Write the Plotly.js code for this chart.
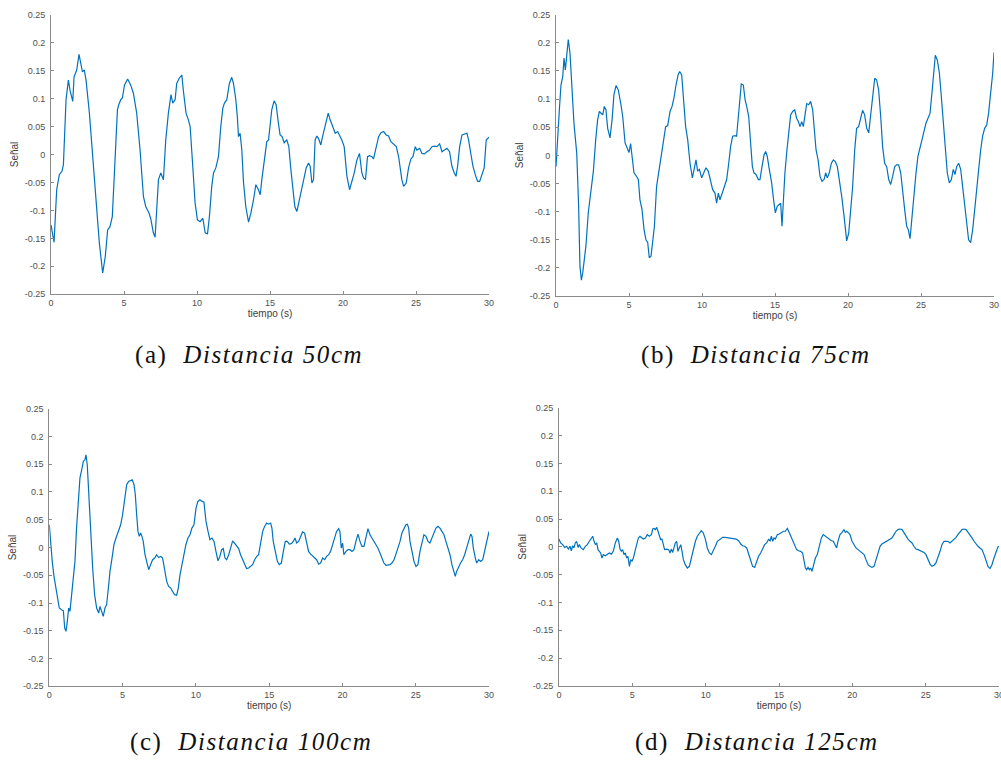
<!DOCTYPE html>
<html>
<head>
<meta charset="utf-8">
<script src="https://cdn.plot.ly/plotly-3.0.1.min.js"></script>
<style>
html,body{margin:0;padding:0;background:#fff;}
#chart{width:1001px;height:760px;}
</style>
</head>
<body>
<div id="chart"></div>
<script>
// ---- Data (time in s, signal values) ----
const tA = [0,0.21,0.39,0.57,0.75,0.85,1.03,1.19,1.30,1.49,1.58,1.76,1.92,2.03,2.15,2.28,2.40,2.63,2.86,3.08,3.31,3.54,3.72,3.88,4.04,4.20,4.39,4.55,4.64,4.78,4.89,5.03,5.25,5.46,5.64,5.87,6.10,6.33,6.49,6.72,6.85,7.01,7.13,7.24,7.36,7.52,7.70,7.86,8.04,8.22,8.34,8.50,8.61,8.77,8.96,9.07,9.25,9.41,9.53,9.71,9.87,10.03,10.21,10.40,10.56,10.72,10.85,11.01,11.13,11.29,11.47,11.63,11.77,11.88,12.04,12.22,12.38,12.50,12.66,12.77,12.84,12.95,13.07,13.18,13.34,13.53,13.69,13.87,14.03,14.21,14.33,14.44,14.55,14.67,14.78,14.90,15.01,15.12,15.28,15.42,15.56,15.69,15.83,15.97,16.15,16.29,16.43,16.56,16.70,16.84,17.00,17.18,17.34,17.48,17.64,17.75,17.87,17.98,18.09,18.21,18.32,18.48,18.60,18.78,18.99,19.12,19.31,19.47,19.63,19.76,19.92,20.08,20.27,20.45,20.61,20.77,20.95,21.13,21.29,21.41,21.54,21.68,21.82,21.98,22.09,22.28,22.44,22.60,22.78,22.96,23.12,23.28,23.46,23.65,23.81,23.92,24.03,24.15,24.33,24.49,24.65,24.79,24.95,25.06,25.25,25.41,25.57,25.75,25.93,26.09,26.25,26.43,26.62,26.78,26.94,27.12,27.30,27.46,27.62,27.74,27.85,27.99,28.15,28.31,28.49,28.60,28.76,28.90,29.06,29.22,29.36,29.52,29.67,29.81,30.00];
const vA = [-0.126,-0.157,-0.063,-0.036,-0.030,-0.018,0.098,0.133,0.115,0.095,0.139,0.151,0.179,0.166,0.148,0.151,0.133,0.074,-0.004,-0.081,-0.158,-0.212,-0.182,-0.135,-0.129,-0.111,-0.004,0.080,0.089,0.098,0.101,0.124,0.135,0.124,0.110,0.074,0.008,-0.075,-0.093,-0.105,-0.117,-0.140,-0.148,-0.105,-0.045,-0.033,-0.045,0.026,0.074,0.107,0.092,0.098,0.127,0.136,0.142,0.113,0.074,0.062,0.050,-0.021,-0.087,-0.117,-0.120,-0.114,-0.140,-0.142,-0.111,-0.057,-0.033,-0.024,-0.004,0.050,0.083,0.092,0.098,0.127,0.138,0.127,0.098,0.065,0.032,0.038,0.008,-0.048,-0.093,-0.121,-0.105,-0.081,-0.054,-0.063,-0.072,-0.045,-0.024,0.002,0.023,0.026,0.050,0.080,0.096,0.089,0.059,0.035,0.032,0.021,0.026,0.014,-0.027,-0.057,-0.093,-0.102,-0.081,-0.057,-0.039,-0.024,-0.015,-0.021,-0.051,-0.045,0.026,0.033,0.029,0.017,0.032,0.050,0.074,0.062,0.050,0.038,0.041,0.035,0.026,0.014,-0.039,-0.063,-0.048,-0.033,-0.010,0.002,-0.033,-0.042,-0.045,-0.004,-0.002,-0.004,-0.008,0.014,0.032,0.039,0.041,0.035,0.033,0.023,0.019,0.014,-0.004,-0.027,-0.045,-0.057,-0.051,-0.024,-0.008,-0.004,0.014,0.008,0.011,0.002,0.001,0.005,0.008,0.014,0.015,0.014,0.019,0.005,0.008,0.011,0.005,-0.021,-0.033,-0.039,-0.021,0.014,0.035,0.037,0.038,0.026,0.002,-0.021,-0.036,-0.048,-0.048,-0.036,-0.024,0.026,0.031];

const tB = [0,0.09,0.23,0.34,0.46,0.55,0.64,0.73,0.84,0.96,1.07,1.23,1.42,1.55,1.64,1.74,1.83,1.92,2.05,2.21,2.37,2.56,2.72,2.85,2.97,3.08,3.20,3.31,3.42,3.54,3.70,3.84,3.97,4.11,4.27,4.43,4.57,4.73,4.89,5.00,5.11,5.23,5.34,5.53,5.64,5.75,5.89,6.03,6.16,6.28,6.39,6.51,6.62,6.74,6.89,7.08,7.24,7.40,7.51,7.65,7.81,7.95,8.08,8.22,8.36,8.47,8.61,8.72,8.88,9.02,9.18,9.34,9.47,9.59,9.70,9.82,9.98,10.14,10.27,10.43,10.59,10.73,10.89,11.00,11.12,11.23,11.39,11.53,11.69,11.83,11.96,12.10,12.26,12.37,12.47,12.58,12.69,12.83,12.95,13.06,13.20,13.33,13.45,13.56,13.70,13.86,13.97,14.11,14.25,14.36,14.47,14.61,14.77,14.89,15.02,15.16,15.27,15.39,15.48,15.57,15.68,15.82,15.96,16.07,16.21,16.35,16.48,16.60,16.71,16.83,16.94,17.05,17.17,17.31,17.44,17.58,17.69,17.81,17.95,18.08,18.22,18.36,18.47,18.58,18.72,18.86,19.00,19.13,19.27,19.41,19.57,19.73,19.91,20.05,20.18,20.32,20.46,20.59,20.73,20.87,21.00,21.14,21.28,21.42,21.55,21.69,21.83,21.96,22.10,22.24,22.37,22.51,22.65,22.79,22.92,23.06,23.20,23.33,23.47,23.61,23.74,23.88,24.02,24.13,24.25,24.36,24.52,24.66,24.79,24.93,25.07,25.21,25.34,25.48,25.62,25.75,25.89,25.98,26.12,26.26,26.39,26.53,26.67,26.80,26.94,27.08,27.21,27.33,27.44,27.58,27.72,27.85,27.99,28.13,28.26,28.40,28.54,28.68,28.81,28.95,29.09,29.22,29.36,29.50,29.63,29.77,29.91,30.00];
const vB = [-0.020,0.028,0.081,0.125,0.140,0.173,0.152,0.176,0.206,0.181,0.128,0.057,0.004,-0.090,-0.197,-0.222,-0.209,-0.185,-0.161,-0.102,-0.067,-0.028,0.028,0.063,0.078,0.075,0.072,0.087,0.081,0.048,0.031,0.063,0.108,0.124,0.116,0.093,0.069,0.022,0.010,0.005,0.021,-0.008,-0.031,-0.038,-0.043,-0.079,-0.096,-0.132,-0.150,-0.155,-0.182,-0.179,-0.155,-0.126,-0.055,-0.022,0.004,0.034,0.051,0.053,0.078,0.087,0.102,0.125,0.143,0.149,0.143,0.105,0.051,0.028,-0.014,-0.040,-0.025,-0.008,-0.028,-0.025,-0.040,-0.031,-0.022,-0.028,-0.046,-0.061,-0.067,-0.085,-0.067,-0.079,-0.067,-0.055,-0.043,-0.014,0.016,0.034,0.035,0.034,0.063,0.105,0.127,0.125,0.099,0.087,0.069,0.022,-0.020,-0.031,-0.034,-0.043,-0.043,-0.020,0.001,0.007,-0.002,-0.025,-0.049,-0.076,-0.102,-0.090,-0.087,-0.085,-0.126,-0.079,-0.031,0.010,0.048,0.072,0.078,0.081,0.066,0.060,0.051,0.060,0.051,0.069,0.092,0.090,0.096,0.081,0.046,0.010,-0.008,-0.037,-0.046,-0.043,-0.031,-0.040,-0.031,-0.014,-0.008,-0.011,-0.020,-0.043,-0.073,-0.108,-0.152,-0.138,-0.102,-0.055,0.010,0.048,0.051,0.069,0.080,0.072,0.048,0.040,0.069,0.111,0.137,0.134,0.116,0.069,0.016,-0.014,-0.020,-0.043,-0.052,-0.037,-0.020,-0.017,-0.017,-0.031,-0.067,-0.096,-0.126,-0.132,-0.148,-0.114,-0.067,-0.031,-0.002,0.016,0.028,0.043,0.057,0.066,0.075,0.111,0.152,0.178,0.169,0.146,0.105,0.057,0.016,-0.031,-0.049,-0.043,-0.025,-0.034,-0.020,-0.014,-0.025,-0.055,-0.090,-0.126,-0.150,-0.155,-0.132,-0.096,-0.055,-0.025,0.010,0.034,0.048,0.054,0.075,0.105,0.146,0.183];

const tC = [0,0.09,0.20,0.32,0.45,0.57,0.68,0.84,0.96,1.05,1.14,1.23,1.32,1.41,1.52,1.64,1.75,1.86,1.98,2.09,2.21,2.32,2.43,2.50,2.59,2.71,2.82,2.96,3.09,3.23,3.37,3.46,3.57,3.68,3.80,3.91,4.03,4.14,4.28,4.41,4.55,4.71,4.87,5.00,5.14,5.28,5.41,5.55,5.66,5.78,5.87,5.96,6.05,6.14,6.23,6.32,6.41,6.53,6.64,6.78,6.91,7.05,7.19,7.32,7.46,7.60,7.73,7.87,8.01,8.14,8.28,8.41,8.55,8.69,8.80,8.92,9.05,9.19,9.32,9.46,9.60,9.73,9.87,10.01,10.14,10.28,10.42,10.55,10.69,10.83,10.96,11.10,11.24,11.37,11.51,11.64,11.76,11.87,11.99,12.10,12.24,12.37,12.51,12.64,12.78,12.92,13.05,13.19,13.33,13.46,13.60,13.74,13.87,14.01,14.15,14.28,14.42,14.56,14.69,14.83,14.96,15.10,15.19,15.28,15.42,15.56,15.69,15.83,15.97,16.10,16.24,16.37,16.51,16.65,16.76,16.88,17.01,17.15,17.28,17.42,17.56,17.69,17.83,17.97,18.10,18.24,18.38,18.51,18.65,18.79,18.92,19.06,19.19,19.33,19.47,19.60,19.74,19.83,19.92,20.01,20.10,20.24,20.38,20.51,20.65,20.79,20.92,21.06,21.20,21.33,21.47,21.61,21.74,21.88,22.02,22.15,22.29,22.42,22.56,22.70,22.83,22.97,23.11,23.24,23.38,23.52,23.65,23.79,23.93,24.06,24.20,24.33,24.43,24.52,24.61,24.74,24.88,25.02,25.15,25.29,25.43,25.56,25.70,25.84,25.97,26.11,26.25,26.38,26.52,26.65,26.79,26.93,27.06,27.20,27.34,27.47,27.61,27.70,27.79,27.93,28.06,28.20,28.34,28.47,28.61,28.75,28.84,28.93,29.07,29.16,29.30,29.43,29.57,29.71,29.84,30.00];
const vC = [0.041,0.005,-0.025,-0.052,-0.073,-0.097,-0.109,-0.112,-0.114,-0.145,-0.151,-0.133,-0.109,-0.115,-0.085,-0.061,-0.025,0.035,0.083,0.125,0.140,0.155,0.158,0.167,0.149,0.089,0.023,-0.037,-0.085,-0.109,-0.118,-0.106,-0.115,-0.124,-0.109,-0.103,-0.073,-0.043,-0.019,0.005,0.017,0.029,0.041,0.059,0.083,0.113,0.119,0.120,0.122,0.113,0.095,0.059,0.029,0.020,0.026,0.020,0.011,-0.013,-0.028,-0.040,-0.031,-0.022,-0.019,-0.013,-0.018,-0.016,-0.019,-0.037,-0.061,-0.070,-0.073,-0.079,-0.085,-0.086,-0.073,-0.049,-0.031,-0.007,0.005,0.017,0.023,0.035,0.041,0.071,0.083,0.086,0.083,0.082,0.047,0.029,0.014,0.017,0.011,-0.007,-0.024,-0.016,-0.004,-0.002,-0.019,-0.022,-0.013,-0.001,0.012,0.008,0.002,-0.002,-0.013,-0.022,-0.031,-0.038,-0.037,-0.034,-0.031,-0.022,-0.016,-0.013,0.005,0.029,0.038,0.044,0.042,0.044,0.035,0.011,-0.007,-0.025,-0.031,-0.028,-0.007,0.011,0.011,0.006,0.007,0.011,0.017,0.008,0.011,0.020,0.028,0.026,0.011,-0.007,-0.012,-0.016,-0.019,-0.022,-0.030,-0.028,-0.019,-0.022,-0.016,-0.013,-0.007,0.005,0.017,0.029,0.034,0.029,-0.001,0.008,-0.013,-0.007,-0.004,-0.004,-0.007,-0.004,0.011,0.024,0.011,0.002,0.002,0.017,0.034,0.023,0.017,0.011,0.005,-0.001,-0.010,-0.018,-0.028,-0.032,-0.032,-0.031,-0.028,-0.022,-0.012,-0.001,0.011,0.026,0.035,0.041,0.042,0.035,0.011,-0.010,-0.025,-0.034,-0.031,-0.007,0.011,0.023,0.020,0.011,0.008,0.017,0.028,0.035,0.038,0.035,0.029,0.023,0.011,-0.001,-0.013,-0.031,-0.043,-0.052,-0.043,-0.034,-0.028,-0.022,-0.013,-0.001,0.011,0.024,0.020,-0.001,-0.019,-0.028,-0.022,-0.025,-0.022,-0.007,0.011,0.029];

const tD = [0,0.11,0.25,0.39,0.52,0.64,0.75,0.84,0.93,1.02,1.11,1.20,1.30,1.39,1.50,1.66,1.80,1.93,2.07,2.20,2.30,2.39,2.48,2.57,2.66,2.75,2.84,2.93,3.02,3.16,3.30,3.43,3.57,3.70,3.84,3.98,4.07,4.16,4.25,4.34,4.43,4.52,4.61,4.70,4.80,4.89,4.98,5.07,5.18,5.30,5.41,5.52,5.64,5.75,5.89,6.02,6.16,6.30,6.39,6.48,6.57,6.66,6.75,6.84,6.93,7.02,7.11,7.20,7.34,7.48,7.57,7.66,7.75,7.84,7.93,8.02,8.11,8.20,8.30,8.39,8.48,8.61,8.75,8.89,9.02,9.16,9.30,9.43,9.57,9.70,9.84,9.98,10.11,10.25,10.39,10.52,10.66,10.80,10.98,11.16,11.34,11.52,11.70,11.89,12.07,12.25,12.39,12.52,12.66,12.80,12.93,13.07,13.20,13.34,13.48,13.61,13.75,13.89,14.02,14.16,14.30,14.39,14.48,14.57,14.66,14.75,14.89,15.02,15.16,15.30,15.43,15.57,15.66,15.80,15.93,16.07,16.20,16.34,16.48,16.61,16.70,16.80,16.89,16.98,17.07,17.16,17.25,17.34,17.48,17.61,17.75,17.89,18.02,18.16,18.30,18.43,18.57,18.70,18.84,18.93,19.02,19.16,19.30,19.43,19.52,19.61,19.75,19.84,19.98,20.11,20.25,20.39,20.52,20.66,20.80,20.93,21.07,21.20,21.34,21.48,21.61,21.75,21.89,22.02,22.16,22.30,22.43,22.57,22.70,22.84,22.98,23.11,23.25,23.39,23.52,23.66,23.80,23.93,24.07,24.20,24.34,24.48,24.61,24.75,24.89,25.02,25.16,25.30,25.43,25.57,25.70,25.84,25.98,26.11,26.25,26.39,26.52,26.66,26.80,26.93,27.07,27.20,27.34,27.48,27.61,27.75,27.89,28.02,28.16,28.30,28.43,28.57,28.70,28.84,28.98,29.11,29.25,29.39,29.52,29.66,29.80,29.93,30.00];
const vD = [0.014,0.007,0.004,-0.001,0.001,-0.004,0.001,-0.007,0.002,-0.002,0.007,0.010,-0.001,0.004,-0.002,-0.005,0.001,0.004,0.010,0.016,0.019,0.010,0.004,0.007,-0.005,-0.008,-0.011,-0.020,-0.014,-0.016,-0.013,-0.011,-0.013,-0.008,0.007,0.016,0.010,-0.004,-0.008,-0.005,-0.014,-0.011,-0.020,-0.017,-0.035,-0.023,-0.026,-0.020,-0.008,0.007,0.016,0.019,0.017,0.014,0.016,0.022,0.019,0.022,0.032,0.033,0.031,0.035,0.028,0.019,0.013,0.014,0.004,-0.005,-0.004,-0.005,-0.011,-0.004,-0.010,-0.002,0.007,0.010,-0.008,-0.002,0.004,-0.008,-0.023,-0.032,-0.038,-0.035,-0.020,-0.002,0.010,0.019,0.025,0.029,0.025,0.014,-0.002,-0.011,-0.014,-0.008,0.001,0.010,0.014,0.017,0.017,0.016,0.016,0.014,0.014,0.011,0.005,0.002,0.001,-0.002,-0.014,-0.026,-0.035,-0.037,-0.026,-0.017,-0.011,-0.004,0.004,0.007,0.014,0.010,0.019,0.010,0.016,0.014,0.022,0.023,0.025,0.028,0.028,0.033,0.028,0.019,0.010,0.001,-0.005,-0.007,-0.008,-0.011,-0.026,-0.038,-0.041,-0.037,-0.041,-0.038,-0.044,-0.035,-0.020,-0.014,0.001,0.016,0.022,0.019,0.016,0.014,0.011,0.010,0.001,-0.002,0.010,0.022,0.026,0.031,0.026,0.028,0.025,0.022,0.010,0.004,-0.002,-0.005,-0.008,-0.011,-0.014,-0.023,-0.032,-0.035,-0.037,-0.035,-0.023,-0.011,0.001,0.005,0.007,0.010,0.011,0.013,0.016,0.022,0.028,0.031,0.032,0.031,0.025,0.019,0.014,0.010,0.007,0.001,-0.004,-0.005,-0.007,-0.008,-0.010,-0.014,-0.023,-0.031,-0.035,-0.033,-0.029,-0.020,-0.008,0.004,0.010,0.010,0.010,0.007,0.010,0.013,0.017,0.022,0.026,0.031,0.032,0.031,0.026,0.022,0.016,0.010,0.005,0.001,-0.002,-0.005,-0.014,-0.025,-0.035,-0.039,-0.032,-0.020,-0.008,0.000,0.001];

const capLetters = ['(a)', '(b)', '(c)', '(d)'];
const capTexts = ['Distancia 50cm', 'Distancia 75cm', 'Distancia 100cm', 'Distancia 125cm'];
const xTitle = 'tiempo (s)';
const yTitle = 'Señal';
const xTickVals = [0, 5, 10, 15, 20, 25, 30];
const xTickText = ['0', '5', '10', '15', '20', '25', '30'];
const yTickVals = [-0.25, -0.2, -0.15, -0.1, -0.05, 0, 0.05, 0.1, 0.15, 0.2, 0.25];
const yTickText = ['-0.25', '-0.2', '-0.15', '-0.1', '-0.05', '0', '0.05', '0.1', '0.15', '0.2', '0.25'];

// ---- Layout ----
const W = 1001, H = 760;
const lineColor = '#0072BD';
const axisColor = '#8a8a8a';
const tickFont = {family: 'Liberation Sans, Arial, sans-serif', size: 9, color: '#505050'};
const titleFont = {family: 'Liberation Sans, Arial, sans-serif', size: 10, color: '#404040'};

// pixel boxes [left, right, top, bottom]
const boxes = [
  [51, 489, 14.7, 294.3],
  [556, 994, 14.7, 296],
  [49.3, 489, 408.7, 686.3],
  [559, 999, 407.7, 686]
];
const series = [[tA, vA], [tB, vB], [tC, vC], [tD, vD]];

const data = [];
const layout = {
  width: W, height: H,
  margin: {l: 0, r: 0, t: 0, b: 0, pad: 0},
  paper_bgcolor: '#fff', plot_bgcolor: '#fff',
  showlegend: false,
  annotations: []
};

function axisCommon() {
  return {
    showline: true, linecolor: axisColor, linewidth: 1,
    ticks: 'inside', ticklen: 3, tickwidth: 1, tickcolor: axisColor,
    showgrid: false, zeroline: false, tickfont: tickFont,
    tickmode: 'array', fixedrange: true, automargin: false,
    ticklabeloverflow: 'allow'
  };
}

series.forEach((s, i) => {
  const n = i + 1;
  const xa = 'xaxis' + (n === 1 ? '' : n);
  const ya = 'yaxis' + (n === 1 ? '' : n);
  const b = boxes[i];
  data.push({
    type: 'scatter', mode: 'lines', x: s[0], y: s[1],
    xaxis: 'x' + (n === 1 ? '' : n), yaxis: 'y' + (n === 1 ? '' : n),
    line: {color: lineColor, width: 1.2}, hoverinfo: 'skip', cliponaxis: false
  });
  layout[xa] = Object.assign(axisCommon(), {
    domain: [b[0] / W, b[1] / W], range: [0, 30],
    anchor: 'y' + (n === 1 ? '' : n),
    tickvals: xTickVals, ticktext: xTickText,
    title: {text: xTitle, font: titleFont, standoff: 2}
  });
  layout[ya] = Object.assign(axisCommon(), {
    domain: [1 - b[3] / H, 1 - b[2] / H], range: [-0.25, 0.25],
    anchor: 'x' + (n === 1 ? '' : n),
    tickvals: yTickVals, ticktext: yTickText, ticklabelstandoff: 3,
    title: {text: yTitle, font: titleFont, standoff: 4}
  });
});

const capPos = [[249, 355], [756, 355], [251, 742], [757, 742]];
capTexts.forEach((c, i) => {
  layout.annotations.push({
    text: '<span style="letter-spacing:1.6px">' + capLetters[i] + '  <i>' + c + '</i></span>',
    xref: 'paper', yref: 'paper',
    x: capPos[i][0] / W, y: 1 - capPos[i][1] / H,
    xanchor: 'center', yanchor: 'middle', showarrow: false,
    font: {family: 'Liberation Serif, Times New Roman, serif', size: 25, color: '#111'}
  });
});

Plotly.newPlot('chart', data, layout, {displayModeBar: false, staticPlot: true});
</script>
</body>
</html>
